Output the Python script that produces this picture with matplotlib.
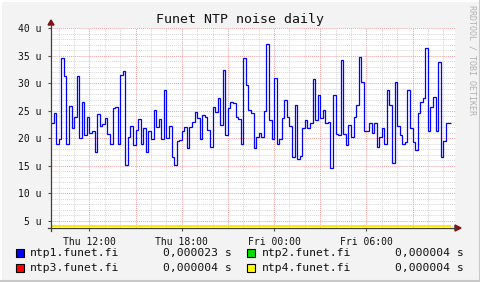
import numpy as np
import matplotlib
matplotlib.use("Agg")
import matplotlib.pyplot as plt
from matplotlib.patches import Rectangle, Polygon
from matplotlib.lines import Line2D

# ---------------- data ----------------
title = "Funet NTP noise daily"
hosts = ["ntp1.funet.fi", "ntp2.funet.fi", "ntp3.funet.fi", "ntp4.funet.fi"]
host_colors = ["#0000FF", "#00E000", "#FF0000", "#FFFF00"]
last_values = ["0,000023 s", "0,000004 s", "0,000004 s", "0,000004 s"]

# time axis: hours since Thu 00:00, 10-minute samples starting Thu 09:30
start_hour = 9.5
step_hours = 1.0 / 6.0

# ntp1 noise in microseconds
ntp1_noise = [
    22.7, 24.5, 19.0, 19.9, 34.5, 31.2, 19.0, 25.8, 21.8, 23.9,
    31.2, 20.0, 26.5, 20.5, 23.8, 21.0, 21.2, 17.5, 24.4, 22.1,
    22.5, 23.6, 20.8, 19.0, 25.4, 25.6, 19.0, 31.5, 32.1, 15.1,
    20.2, 22.1, 18.7, 21.5, 23.4, 19.0, 21.9, 17.5, 21.2, 19.9,
    25.1, 22.0, 23.5, 19.9, 28.7, 20.0, 22.1, 16.6, 15.1, 19.5,
    19.6, 21.2, 22.0, 18.1, 22.0, 23.0, 24.8, 23.6, 19.9, 24.2,
    23.9, 21.5, 18.4, 25.6, 24.8, 27.2, 22.4, 32.4, 20.5, 25.4,
    26.5, 26.3, 23.9, 23.5, 19.0, 34.5, 29.6, 25.1,
    24.5, 18.1, 20.2, 21.0, 20.2, 25.0, 37.1, 23.3, 19.8, 31.0,
    19.0, 19.9, 23.6, 26.9, 23.9, 22.1, 16.6, 26.0, 16.1, 16.7,
    21.8, 23.3, 21.8, 22.7, 30.8, 23.3, 27.8, 23.6, 25.1, 22.7,
    23.0, 14.5, 27.8, 20.8, 20.5, 34.2, 20.8, 18.7, 22.4, 20.2,
    23.9, 26.0, 34.8, 30.2, 21.2, 21.2, 22.7, 21.0, 22.7, 18.4,
    20.2, 21.9, 19.0, 28.7, 26.0, 15.4, 30.2, 22.1, 20.5, 19.0,
    19.3, 28.7, 21.8, 19.3, 17.8, 24.5, 26.6, 27.2, 36.3, 21.2,
    25.7, 27.5, 21.2, 33.9, 16.5, 19.5, 22.7, 22.7,
]
# ntp2..ntp4 are flat at 4 microseconds
flat_noise = [4.0, 4.0, 4.0]

x_tick_pos = [12, 18, 24, 30]
x_tick_labels = ["Thu 12:00", "Thu 18:00", "Fri 00:00", "Fri 06:00"]
y_tick_pos = [5, 10, 15, 20, 25, 30, 35, 40]
y_tick_labels = ["5 u", "10 u", "15 u", "20 u", "25 u", "30 u", "35 u", "40 u"]

# ---------------- figure ----------------
W, H = 481, 282
fig = plt.figure(figsize=(W / 100, H / 100), dpi=100)
fig.patch.set_facecolor("#F3F3F3")

def fx(px):
    return px / W

def fy(py):
    return 1 - py / H

ax = fig.add_axes([fx(51), fy(228), fx(455) - fx(51), fy(28) - fy(228)])
ax.set_facecolor("white")

n = len(ntp1_noise)
edges = start_hour + step_hours * np.arange(n + 1)
ax.set_xlim(start_hour, 35.76)
ax.set_ylim(3.64, 40)

# grid
for h in np.arange(10, 36, 1):
    if h % 3 != 0:
        ax.axvline(h, color="#D6D6D6", lw=0.7, ls=(0, (1, 1)), zorder=1)
for v in np.arange(4, 41, 1):
    if v % 5 != 0:
        ax.axhline(v, color="#D6D6D6", lw=0.7, ls=(0, (1, 1)), zorder=1)
for h in np.arange(12, 36, 3):
    ax.axvline(h, color="#F0A0A0", lw=0.7, ls=(0, (1, 1)), zorder=2)
for v in y_tick_pos:
    ax.axhline(v, color="#F0A0A0", lw=0.7, ls=(0, (1, 1)), zorder=2)

# series
ax.stairs(ntp1_noise, edges, baseline=None, color=host_colors[0], lw=0.9, zorder=5)
for val, col in zip(flat_noise, host_colors[1:]):
    ax.plot([edges[0], edges[-1]], [val, val], color=col, lw=1.3, zorder=6,
            solid_capstyle="butt")

for s in ax.spines.values():
    s.set_visible(False)

mono = "DejaVu Sans Mono"
ax.set_xticks(x_tick_pos)
ax.set_xticklabels(x_tick_labels, fontsize=7, family=mono, color="#111111")
ax.set_yticks(y_tick_pos)
ax.set_yticklabels(y_tick_labels, fontsize=7, family=mono, color="#111111")
ax.tick_params(axis="both", direction="out", length=2.2, width=0.8, color="#505050")
ax.tick_params(axis="y", pad=4.5)
ax.tick_params(axis="x", pad=4)

# axis lines with arrows
axcol = "#404040"
fig.add_artist(Line2D([fx(51), fx(51)], [fy(231), fy(24)], color=axcol, lw=0.9,
                      transform=fig.transFigure))
fig.add_artist(Line2D([fx(48), fx(456)], [fy(228), fy(228)], color=axcol, lw=0.9,
                      transform=fig.transFigure))
fig.add_artist(Polygon([[fx(48), fy(25)], [fx(54), fy(25)], [fx(51), fy(20)]],
                       closed=True, color="#7F1010", transform=fig.transFigure))
fig.add_artist(Polygon([[fx(455), fy(225)], [fx(455), fy(231)], [fx(461), fy(228)]],
                       closed=True, color="#7F1010", transform=fig.transFigure))

# title
fig.text(fx(240), fy(19), title, ha="center", va="center", fontsize=9.5,
         family=mono, color="#111111")

# watermark
fig.text(fx(472), fy(5), "RRDTOOL / TOBI OETIKER", rotation=270, ha="center",
         va="top", fontsize=6, family=mono, color="#B0B0B0")

# legend
rows_y = [253, 268]
col_sq_x = [16, 247]
col_txt_x = [30, 262]
col_val_x = [232, 464]
order = [(0, 0, 0), (1, 0, 1), (2, 1, 0), (3, 1, 1)]  # host idx, row, col
for idx, r, c in order:
    y = rows_y[r]
    fig.add_artist(Rectangle((fx(col_sq_x[c]), fy(y + 4)), fx(8), 8 / H,
                             facecolor=host_colors[idx], edgecolor="black", lw=0.8,
                             transform=fig.transFigure))
    fig.text(fx(col_txt_x[c]), fy(y), hosts[idx], ha="left", va="center",
             fontsize=8.2, family=mono, color="#111111")
    fig.text(fx(col_val_x[c]), fy(y), last_values[idx], ha="right", va="center",
             fontsize=8.2, family=mono, color="#111111")

# frame
fig.add_artist(Line2D([0, 1], [fy(0.5), fy(0.5)], color="white", lw=1.5, transform=fig.transFigure))
fig.add_artist(Line2D([fx(0.5), fx(0.5)], [0, 1], color="white", lw=1.5, transform=fig.transFigure))
fig.add_artist(Line2D([0, 1], [fy(281), fy(281)], color="#C8C8C8", lw=1.5, transform=fig.transFigure))
fig.add_artist(Line2D([fx(480), fx(480)], [0, 1], color="#C8C8C8", lw=1.5, transform=fig.transFigure))

fig.savefig("out.png", dpi=100, facecolor=fig.get_facecolor())
